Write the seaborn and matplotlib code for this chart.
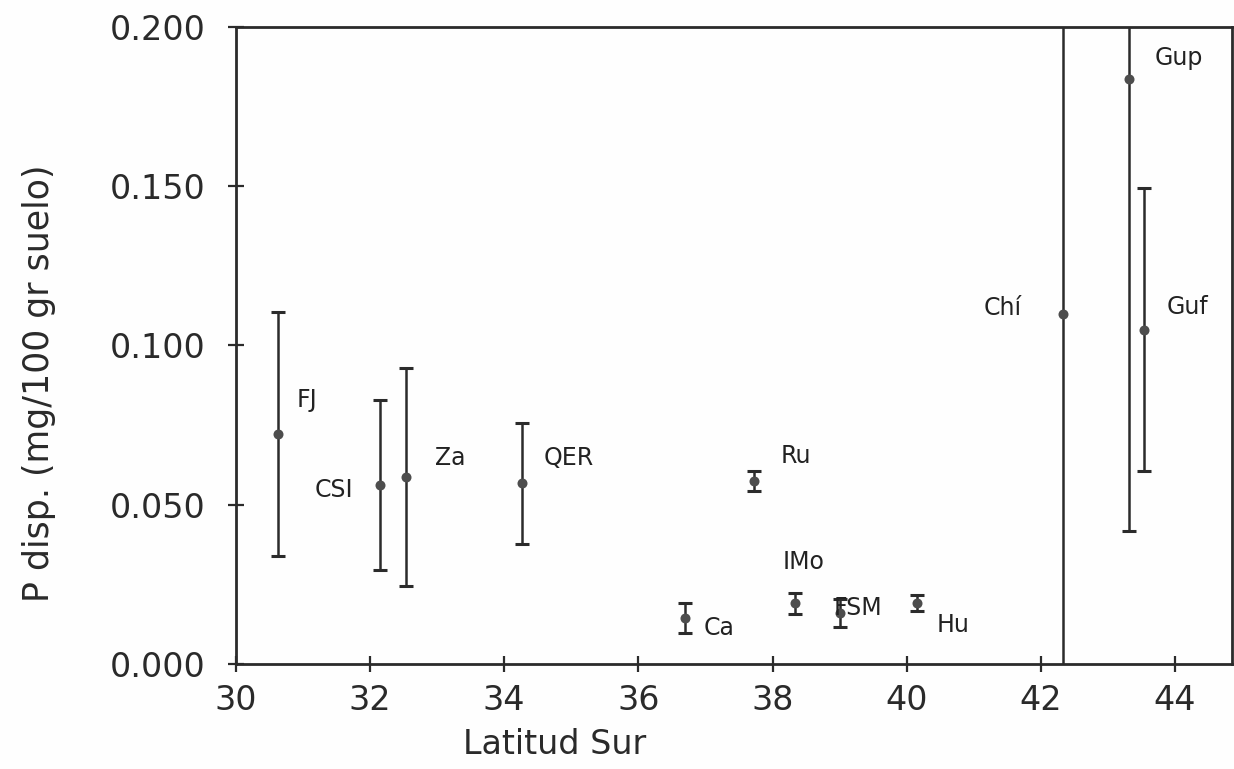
import matplotlib
matplotlib.use("Agg")
import matplotlib.pyplot as plt
import seaborn as sns
import pandas as pd

# Available phosphorus by site along southern latitude
sites = ["FJ", "CSI", "Za", "QER", "Ca", "Ru", "IMo", "FSM", "Hu", "Chí", "Gup", "Guf"]
latitude = [30.63, 32.15, 32.54, 34.27, 36.70, 37.73, 38.33, 39.00, 40.15, 42.33, 43.31, 43.54]
p_mean = [0.0722, 0.0562, 0.0587, 0.0568, 0.0144, 0.0575, 0.0191, 0.0160, 0.0191, 0.1100, 0.1837, 0.1050]
p_err = [0.0383, 0.0267, 0.0342, 0.0190, 0.0048, 0.0031, 0.0033, 0.0045, 0.0025, 0.1300, 0.1420, 0.0443]

x_ticks = [30, 32, 34, 36, 38, 40, 42, 44]
y_ticks = [0.000, 0.050, 0.100, 0.150, 0.200]

# label placement: (dx, dy) offset in pixels from the point, and horizontal alignment
label_offsets = {
    "FJ": (19, 34, "left"), "CSI": (-27, -5, "right"), "Za": (29, 19, "left"),
    "QER": (21, 25, "left"), "Ca": (18, -10, "left"), "Ru": (26, 25, "left"),
    "IMo": (-12, 41, "left"), "FSM": (-6, 5, "left"), "Hu": (20, -22, "left"),
    "Chí": (-41, 6, "right"), "Gup": (26, 21, "left"), "Guf": (22, 23, "left"),
}

df = pd.DataFrame({"site": sites, "lat": latitude, "p": p_mean, "err": p_err})

sns.set_theme(style="ticks")
plt.rcParams["font.family"] = ["DejaVu Sans"]

ink = "#2b2b2b"
fig = plt.figure(figsize=(12.34, 7.69), dpi=100, facecolor="#fefefe")
ax = fig.add_axes([0.191, 0.1365, 0.8075, 0.8285])
ax.set_facecolor("#fefefe")

ax.errorbar(df["lat"], df["p"], yerr=df["err"], fmt="none", ecolor=ink,
            elinewidth=1.8, capsize=5, capthick=2.2, zorder=2)
sns.scatterplot(data=df, x="lat", y="p", ax=ax, color="#4d4d4d", s=52,
                edgecolor="#4d4d4d", linewidth=0, zorder=3)

px2pt = 0.72
for _, row in df.iterrows():
    dx, dy, ha = label_offsets[row["site"]]
    ax.annotate(row["site"], (row["lat"], row["p"]), xytext=(dx * px2pt, dy * px2pt),
                textcoords="offset points", ha=ha, va="center",
                fontsize=17, color="#222222")

ax.set_xlim(30, 44.85)
ax.set_ylim(0, 0.2)
ax.set_xticks(x_ticks)
ax.set_yticks(y_ticks)
ax.set_yticklabels([f"{v:.3f}" for v in y_ticks])
ax.tick_params(direction="inout", length=11, width=1.6, colors=ink,
               labelsize=24, labelcolor="#2a2a2a")
ax.tick_params(axis="x", pad=9)
ax.tick_params(axis="y", pad=16)

for s in ax.spines.values():
    s.set_color(ink)
    s.set_linewidth(2)

ax.set_xlabel("Latitud Sur", fontsize=24, color="#2a2a2a")
ax.set_ylabel("P disp. (mg/100 gr suelo)", fontsize=25, color="#2a2a2a")
ax.xaxis.set_label_coords(0.32, -0.10)
ax.yaxis.set_label_coords(-0.180, 0.44)

fig.savefig("out.png", dpi=100, facecolor=fig.get_facecolor())
